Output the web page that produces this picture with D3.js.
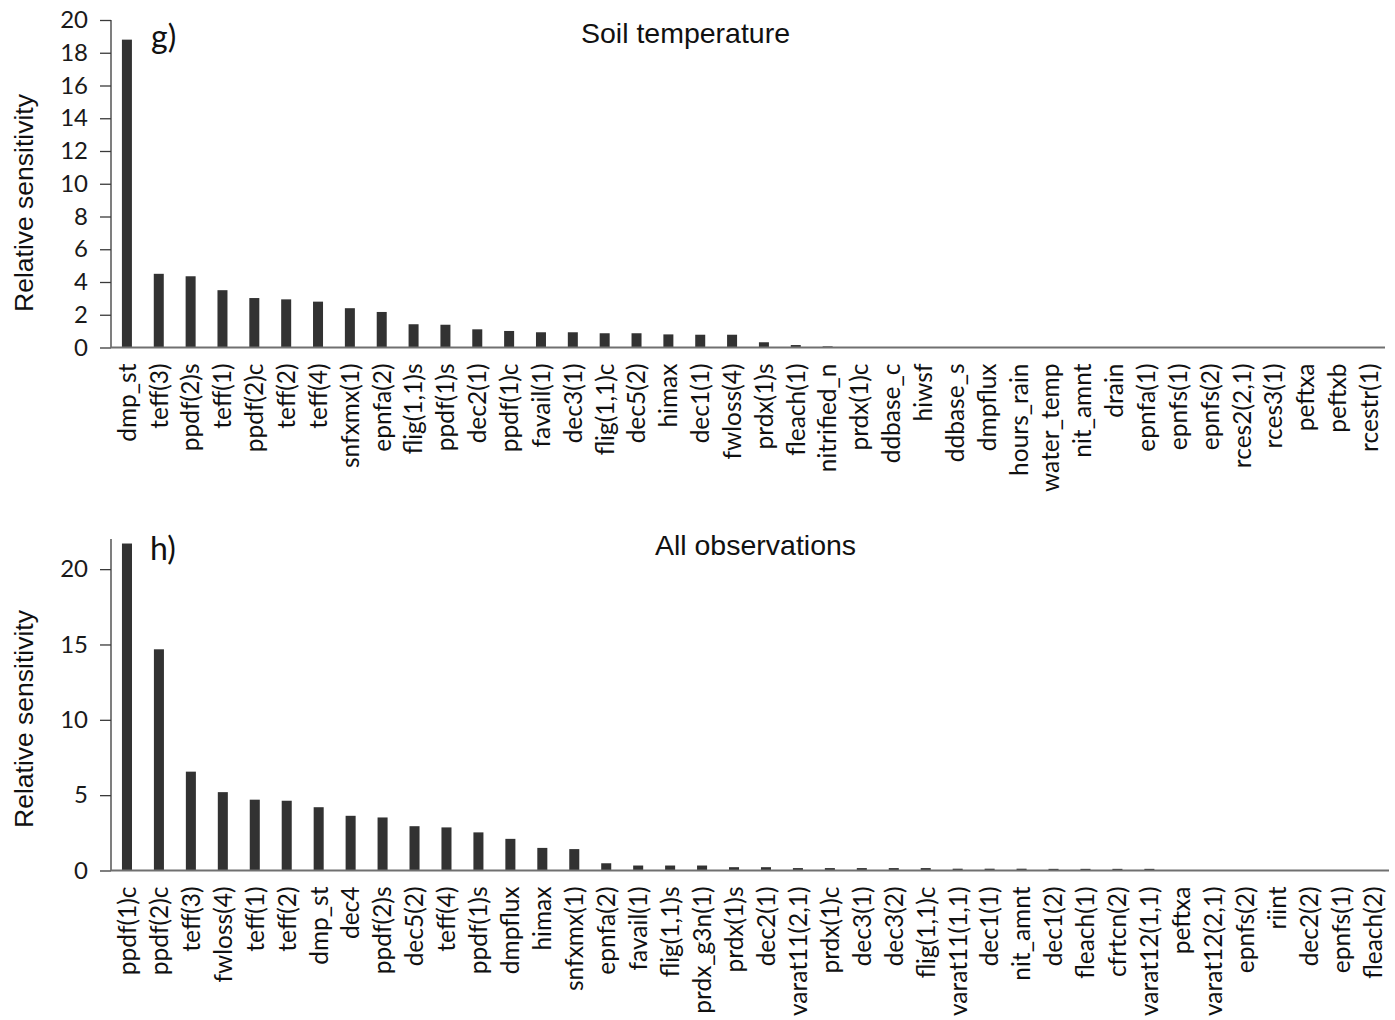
<!DOCTYPE html>
<html>
<head>
<meta charset="utf-8">
<script src="https://cdn.jsdelivr.net/npm/d3@7"></script>
<style>
  html, body { margin: 0; padding: 0; background: #ffffff; }
  svg { display: block; }
</style>
</head>
<body>
<svg id="chart" width="1395" height="1020"></svg>
<script>
// Panel g) Soil temperature
const soilParams = ["dmp_st","teff(3)","ppdf(2)s","teff(1)","ppdf(2)c","teff(2)","teff(4)","snfxmx(1)","epnfa(2)","flig(1,1)s",
  "ppdf(1)s","dec2(1)","ppdf(1)c","favail(1)","dec3(1)","flig(1,1)c","dec5(2)","himax","dec1(1)","fwloss(4)",
  "prdx(1)s","fleach(1)","nitrified_n","prdx(1)c","ddbase_c","hiwsf","ddbase_s","dmpflux","hours_rain","water_temp",
  "nit_amnt","drain","epnfa(1)","epnfs(1)","epnfs(2)","rces2(2,1)","rces3(1)","peftxa","peftxb","rcestr(1)"];
const soilValues = [18.8, 4.5, 4.35, 3.5, 3.02, 2.94, 2.8, 2.4, 2.17, 1.42,
  1.39, 1.11, 1.01, 0.93, 0.93, 0.87, 0.87, 0.8, 0.78, 0.78,
  0.32, 0.15, 0.07, 0, 0, 0, 0, 0, 0, 0,
  0, 0, 0, 0, 0, 0, 0, 0, 0, 0];
const soilTicks = [0, 2, 4, 6, 8, 10, 12, 14, 16, 18, 20];

// Panel h) All observations
const allParams = ["ppdf(1)c","ppdf(2)c","teff(3)","fwloss(4)","teff(1)","teff(2)","dmp_st","dec4","ppdf(2)s","dec5(2)",
  "teff(4)","ppdf(1)s","dmpflux","himax","snfxmx(1)","epnfa(2)","favail(1)","flig(1,1)s","prdx_g3n(1)","prdx(1)s",
  "dec2(1)","varat11(2,1)","prdx(1)c","dec3(1)","dec3(2)","flig(1,1)c","varat11(1,1)","dec1(1)","nit_amnt","dec1(2)",
  "fleach(1)","cfrtcn(2)","varat12(1,1)","peftxa","varat12(2,1)","epnfs(2)","riint","dec2(2)","epnfs(1)","fleach(2)"];
const allValues = [21.7, 14.68, 6.56, 5.2, 4.7, 4.63, 4.2, 3.63, 3.52, 2.94,
  2.86, 2.53, 2.1, 1.5, 1.42, 0.48, 0.33, 0.33, 0.33, 0.22,
  0.22, 0.16, 0.16, 0.16, 0.16, 0.16, 0.12, 0.12, 0.12, 0.11,
  0.11, 0.11, 0.11, 0, 0, 0, 0, 0, 0, 0];
const allTicks = [0, 5, 10, 15, 20];

const yTitle = "Relative sensitivity";

const panels = [
  { tag: "g)", title: "Soil temperature", names: soilParams, values: soilValues, ticks: soilTicks,
    yMax: 20, x0: 111, x1: 1385, yBase: 347.5, yTop: 20,
    tagPos: [151, 48], titlePos: [685.5, 43], yTitleY: 203 },
  { tag: "h)", title: "All observations", names: allParams, values: allValues, ticks: allTicks,
    yMax: 22, x0: 111, x1: 1389, yBase: 870.5, yTop: 539,
    tagPos: [150, 560], titlePos: [755.5, 555], yTitleY: 719 }
];

const svg = d3.select("#chart");
const barColor = "#323232";
const labelFont = "Lato, 'Open Sans', sans-serif";
const titleFont = "'Liberation Sans', Arial, sans-serif";

panels.forEach(p => {
  const g = svg.append("g");

  const x = d3.scaleBand()
    .domain(p.names)
    .range([p.x0, p.x1])
    .paddingInner(0.686)
    .paddingOuter(0.343);

  const y = d3.scaleLinear()
    .domain([0, p.yMax])
    .range([p.yBase, p.yTop]);

  // bars
  g.selectAll("rect.bar")
    .data(p.names.map((n, i) => ({ name: n, value: p.values[i] })))
    .join("rect")
    .attr("class", "bar")
    .attr("x", d => x(d.name))
    .attr("width", x.bandwidth())
    .attr("y", d => y(d.value))
    .attr("height", d => y(0) - y(d.value))
    .attr("fill", barColor);

  // y axis
  const yAxis = d3.axisLeft(y)
    .tickValues(p.ticks)
    .tickSize(11)
    .tickPadding(12)
    .tickFormat(d3.format("d"));
  const ya = g.append("g")
    .attr("transform", `translate(${p.x0},0)`)
    .call(yAxis);
  ya.select(".domain")
    .attr("d", `M0,${p.yBase}V${p.yTop}`)
    .attr("stroke", "#3a3a3a")
    .attr("stroke-width", 1.3);
  ya.selectAll(".tick line").attr("stroke", "#3a3a3a").attr("stroke-width", 1.3);
  ya.selectAll(".tick text")
    .attr("font-family", labelFont)
    .attr("font-size", 24)
    .attr("fill", "#1a1a1a");

  // x axis with rotated category names
  const xAxis = d3.axisBottom(x).tickSize(0).tickPadding(0);
  const xa = g.append("g")
    .attr("transform", `translate(0,${p.yBase})`)
    .call(xAxis);
  xa.select(".domain")
    .attr("d", `M${p.x0},0H${p.x1}`)
    .attr("stroke", "#707070")
    .attr("stroke-width", 2);
  xa.selectAll(".tick line").remove();
  xa.selectAll(".tick text")
    .attr("font-family", labelFont)
    .attr("font-size", 24.5)
    .attr("fill", "#111111")
    .attr("text-anchor", "end")
    .attr("transform", "translate(0,16) rotate(-90)")
    .attr("x", 0)
    .attr("y", 0)
    .attr("dy", "0.36em");

  // axis title
  g.append("text")
    .attr("transform", `translate(33,${p.yTitleY}) rotate(-90)`)
    .attr("text-anchor", "middle")
    .attr("font-family", titleFont)
    .attr("font-size", 26.5)
    .attr("fill", "#111111")
    .text(yTitle);

  // panel tag
  g.append("text")
    .attr("x", p.tagPos[0])
    .attr("y", p.tagPos[1])
    .attr("font-family", labelFont)
    .attr("font-size", 32)
    .attr("fill", "#111111")
    .text(p.tag);

  // panel title
  g.append("text")
    .attr("x", p.titlePos[0])
    .attr("y", p.titlePos[1])
    .attr("text-anchor", "middle")
    .attr("font-family", titleFont)
    .attr("font-size", 28.5)
    .attr("fill", "#111111")
    .text(p.title);
});
</script>
</body>
</html>
